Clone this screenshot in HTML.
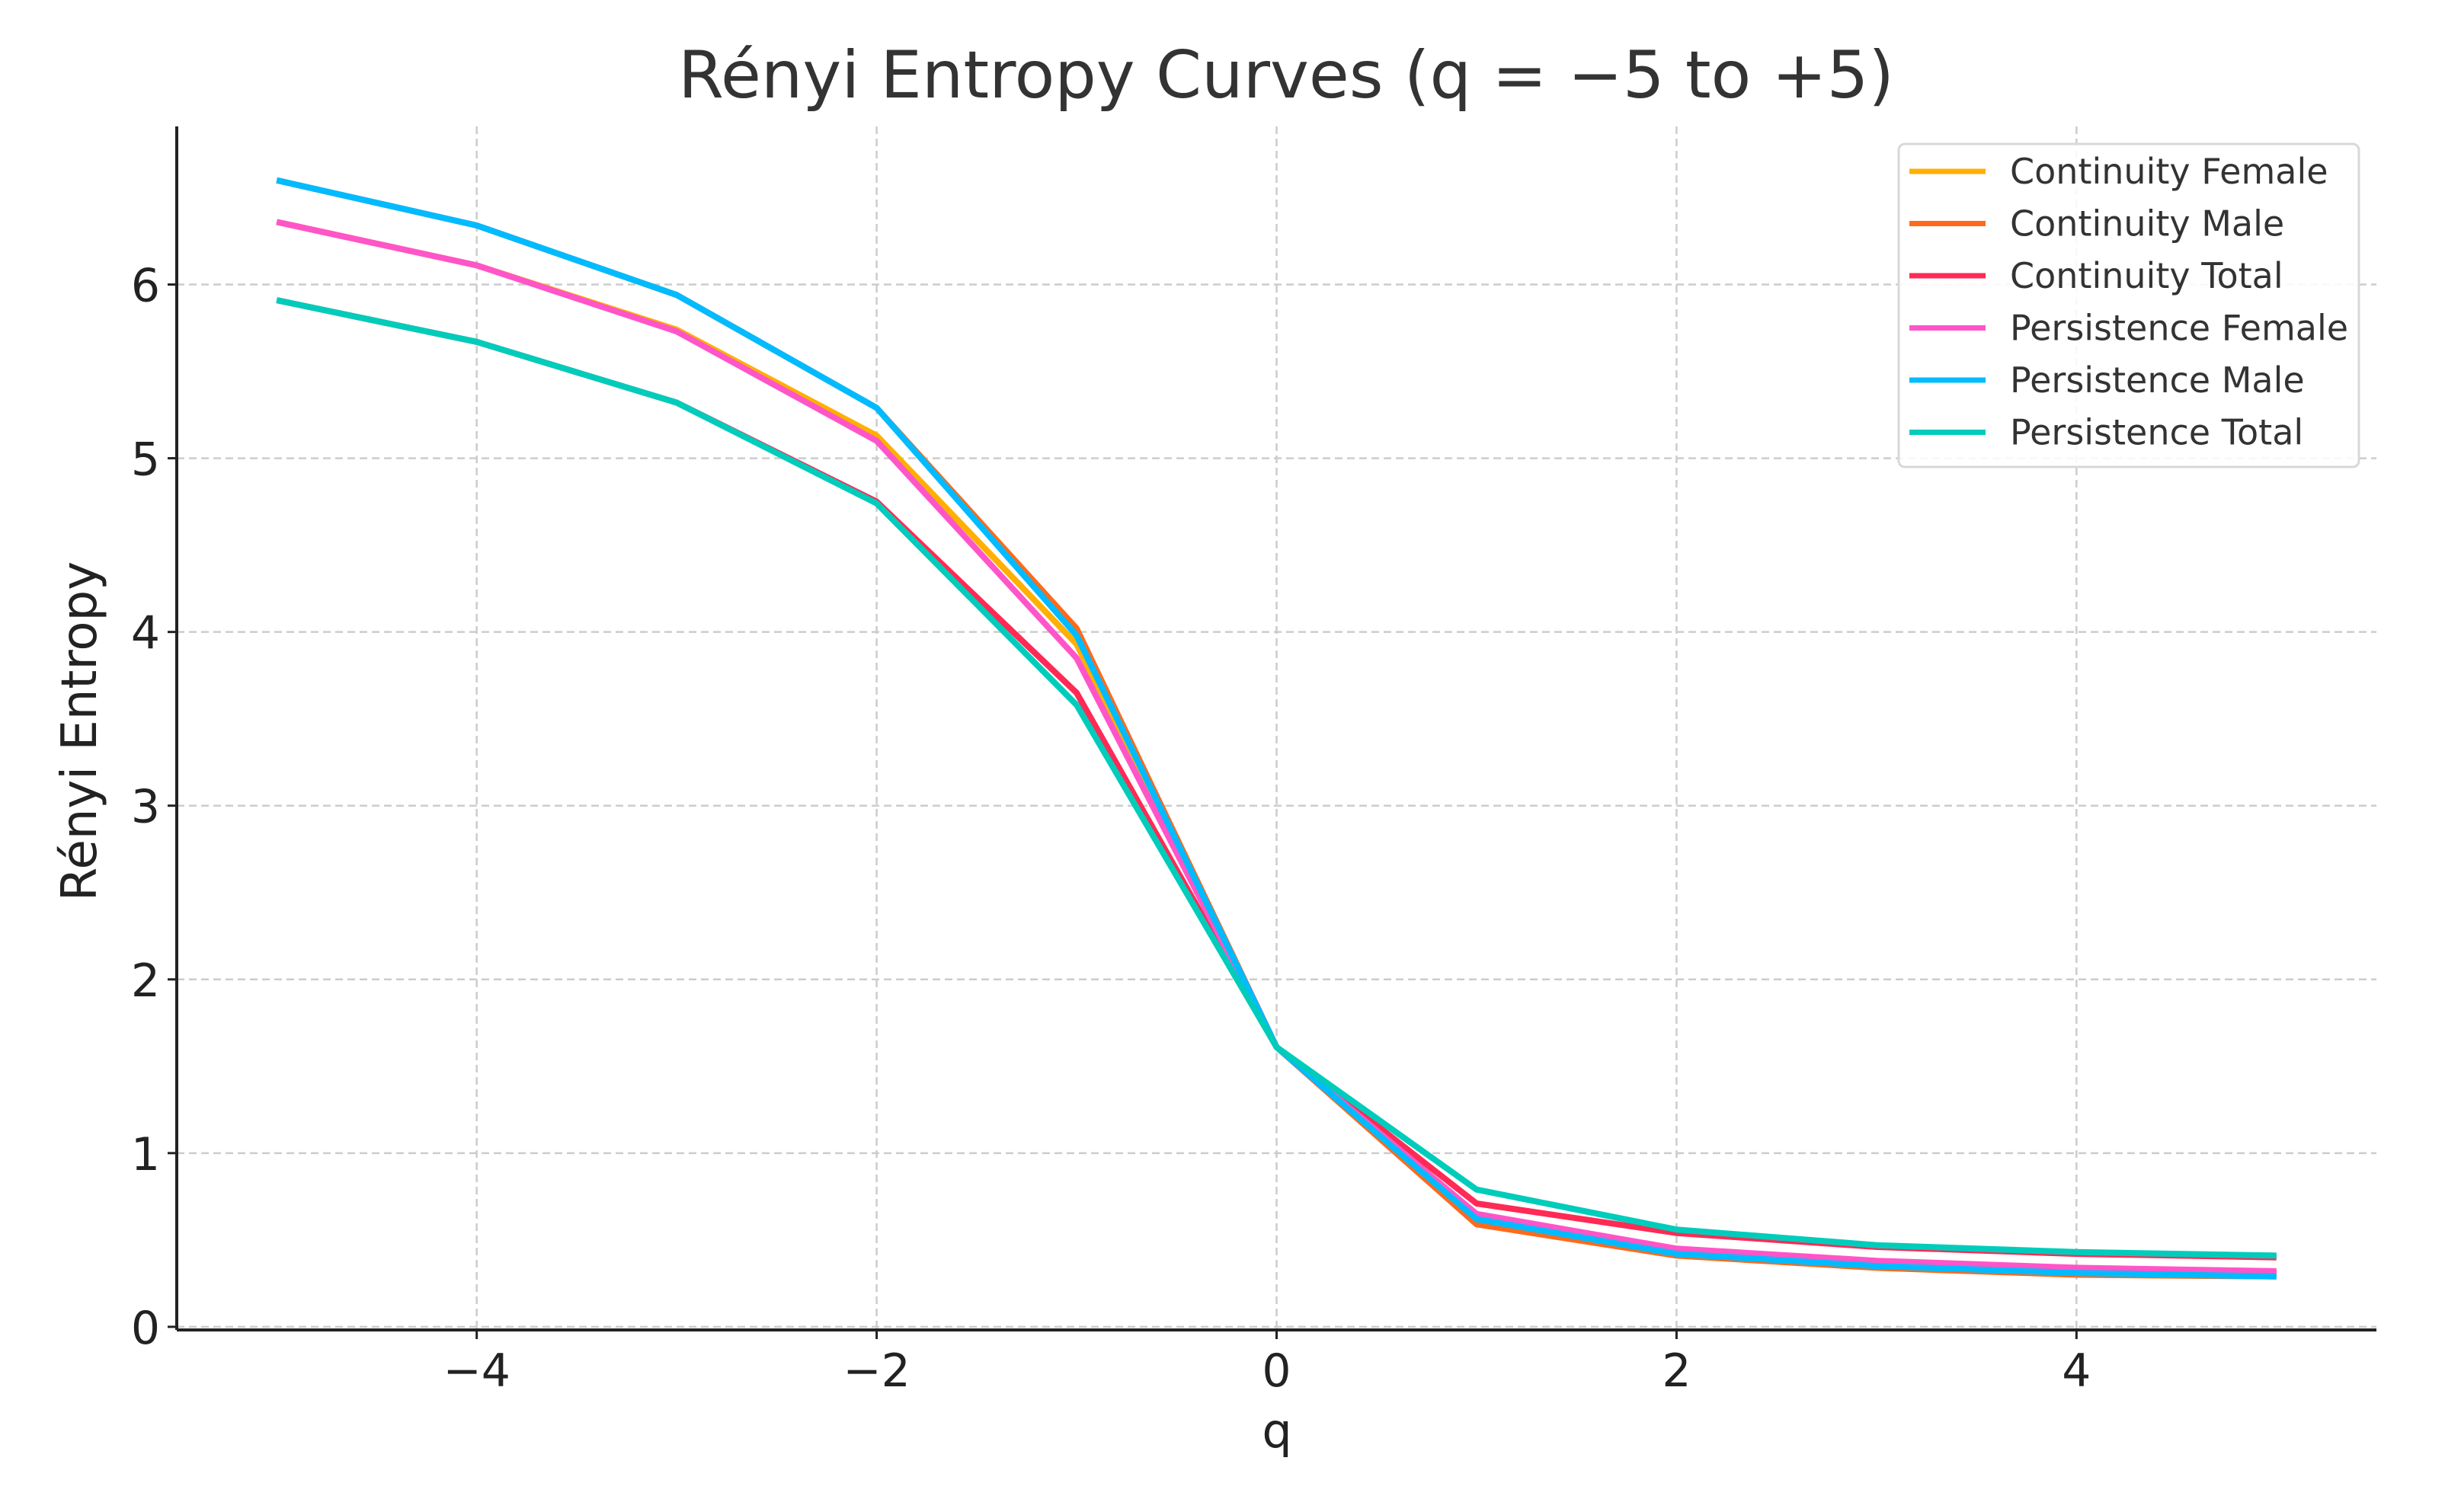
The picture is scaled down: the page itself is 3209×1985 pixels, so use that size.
<!DOCTYPE html>
<html><head><meta charset="utf-8"><style>
html,body{margin:0;padding:0;background:#fff;}
svg{display:block;font-family:"DejaVu Sans","Liberation Sans",sans-serif;}
</style></head><body>
<svg id="chart" width="3209" height="1985" viewBox="0 0 3209 1985" xmlns="http://www.w3.org/2000/svg">
<rect width="3209" height="1985" fill="#fff"/>
<text x="1688" y="128" font-size="86" fill="#333" text-anchor="middle">Rényi Entropy Curves (q = −5 to +5)</text>
<g id="grid"></g>
<g id="series"></g>
<g id="axes"></g>
<text transform="translate(126,960) rotate(-90)" font-size="64" fill="#222" text-anchor="middle">Rényi Entropy</text>
<text x="1676" y="1900" font-size="62" fill="#222" text-anchor="middle">q</text>
<g id="legend"></g>
</svg>
<script>
const qValues = [-5,-4,-3,-2,-1,0,1,2,3,4,5];
const seriesNames = ["Continuity Female","Continuity Male","Continuity Total","Persistence Female","Persistence Male","Persistence Total"];
const seriesColors = ["#ffb000","#ff6a1a","#ff2a55","#ff55c8","#00bbff","#00ccbb"];
const contFemale = [6.36,6.11,5.74,5.13,3.93,1.61,0.62,0.43,0.36,0.32,0.31];
const contMale   = [6.60,6.34,5.94,5.29,4.02,1.61,0.59,0.41,0.34,0.30,0.29];
const contTotal  = [5.91,5.67,5.32,4.75,3.65,1.61,0.71,0.54,0.46,0.42,0.40];
const persFemale = [6.36,6.11,5.73,5.10,3.85,1.61,0.65,0.45,0.38,0.34,0.32];
const persMale   = [6.60,6.34,5.94,5.29,3.98,1.61,0.62,0.42,0.35,0.31,0.29];
const persTotal  = [5.91,5.67,5.32,4.74,3.58,1.61,0.79,0.56,0.47,0.43,0.41];
const seriesValues = [contFemale,contMale,contTotal,persFemale,persMale,persTotal];
const xTicks = [-4,-2,0,2,4];
const xTickLabels = ["−4","−2","0","2","4"];
const yTicks = [0,1,2,3,4,5,6];
const yTickLabels = ["0","1","2","3","4","5","6"];

const NS="http://www.w3.org/2000/svg";
const L=232,R=3119,T=166,B=1746;
const xMin=-5.5,xMax=5.5,yMin=-0.018,yMax=6.91;
function xs(v){return L+(v-xMin)/(xMax-xMin)*(R-L);}
function ys(v){return B-(v-yMin)/(yMax-yMin)*(B-T);}
function mk(tag,attrs,parent){const e=document.createElementNS(NS,tag);for(const k in attrs)e.setAttribute(k,attrs[k]);parent.appendChild(e);return e;}
const grid=document.getElementById('grid'),axes=document.getElementById('axes'),ser=document.getElementById('series'),leg=document.getElementById('legend');

xTicks.forEach((t,i)=>{
  const g=mk('line',{x1:xs(t),x2:xs(t),y1:T,y2:B,stroke:'#cccccc','stroke-width':2.5,'stroke-dasharray':'10,6'},grid);
  
  
  const tk=mk('line',{x1:xs(t),x2:xs(t),y1:B,y2:B+12,stroke:'#222','stroke-width':3},axes);
  
  
  const lb=mk('text',{x:xs(t),y:1820,'font-size':60,fill:'#222','text-anchor':'middle'},axes);
  
  
  lb.textContent=xTickLabels[i];
});
yTicks.forEach((t,i)=>{
  const g=mk('line',{x1:L,x2:R,y1:ys(t),y2:ys(t),stroke:'#cccccc','stroke-width':2.5,'stroke-dasharray':'10,6'},grid);
  
  
  const tk=mk('line',{x1:L-12,x2:L,y1:ys(t),y2:ys(t),stroke:'#222','stroke-width':3},axes);
  
  
  const lb=mk('text',{x:210,y:ys(t)+22,'font-size':60,fill:'#222','text-anchor':'end'},axes);
  
  
  lb.textContent=yTickLabels[i];
});
const sl=mk('line',{x1:L,x2:L,y1:T,y2:B,stroke:'#222','stroke-width':4},axes);


const sb=mk('line',{x1:L,x2:R,y1:B,y2:B,stroke:'#222','stroke-width':4},axes);



seriesValues.forEach((vals,si)=>{
  const d=vals.map((v,i)=>(i?'L':'M')+xs(qValues[i]).toFixed(1)+','+ys(v).toFixed(1)).join(' ');
  const p=mk('path',{d:d,fill:'none',stroke:seriesColors[si],'stroke-width':8,'stroke-linejoin':'round'},ser);
  
  
});

const box=mk('rect',{x:2492,y:189,width:604,height:424,rx:8,fill:'#fff','fill-opacity':0.85,stroke:'#d8d8d8','stroke-width':3},leg);


seriesNames.forEach((n,i)=>{
  const y=225+i*68.5;
  const ln=mk('line',{x1:2506,x2:2606,y1:y,y2:y,stroke:seriesColors[i],'stroke-width':7},leg);
  
  
  const tx=mk('text',{x:2638,y:y+16,'font-size':46,fill:'#333'},leg);
  
  
  tx.textContent=n;
});
</script>
</body></html>
